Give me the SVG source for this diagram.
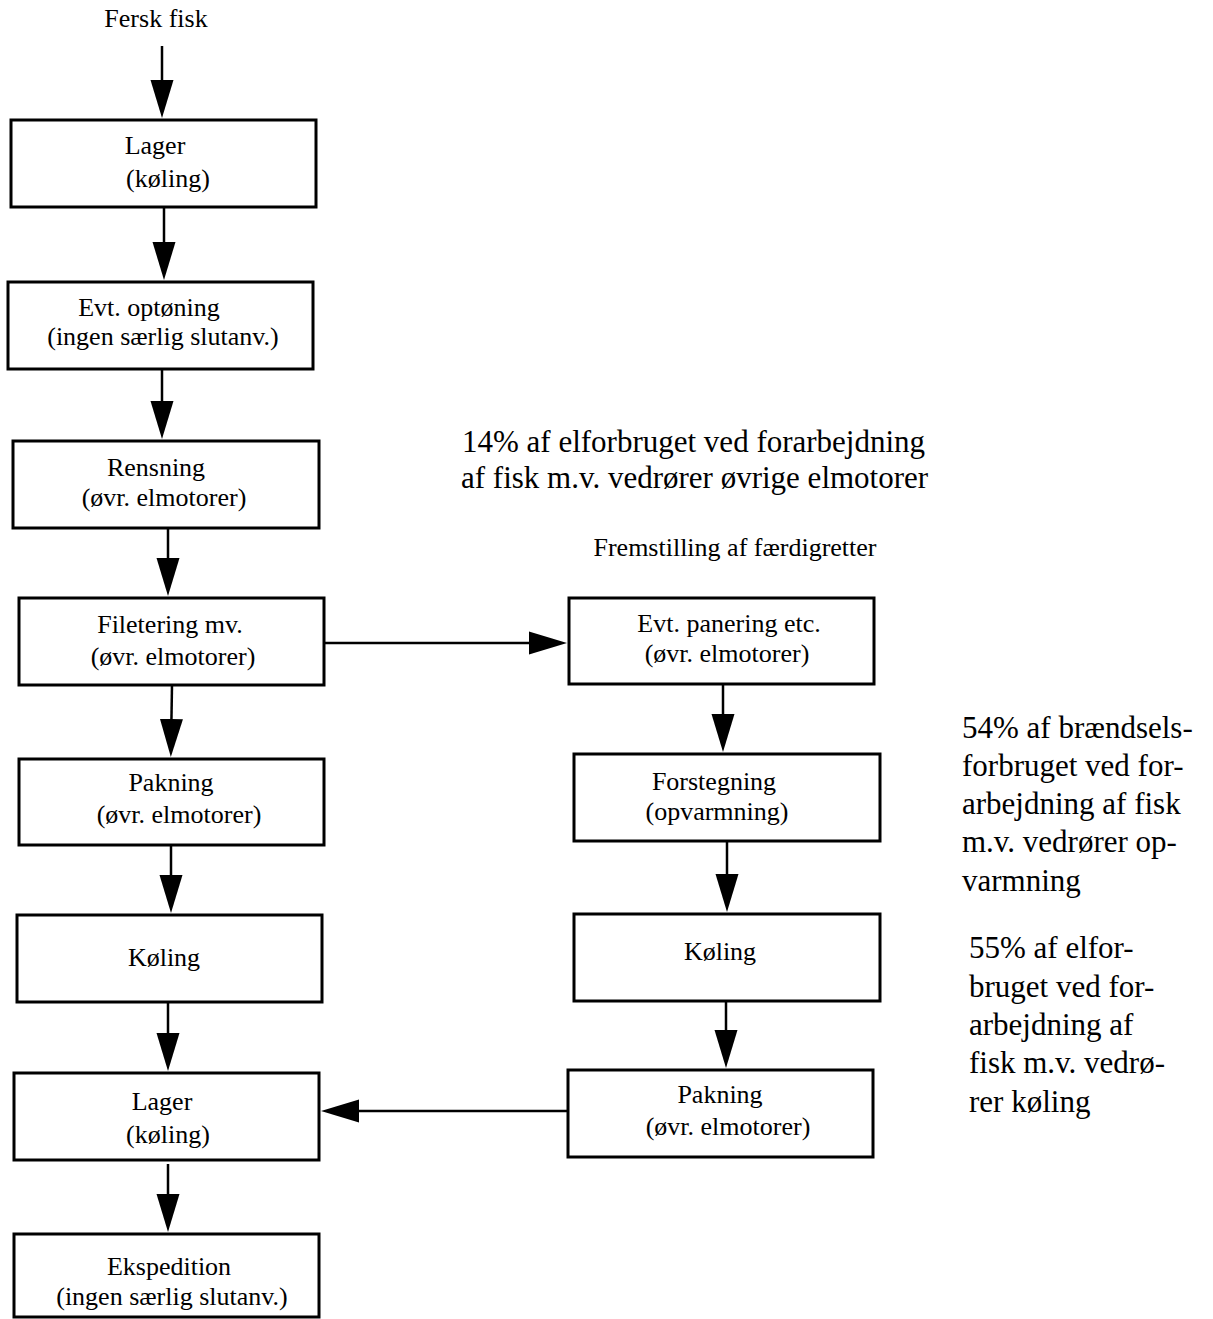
<svg xmlns="http://www.w3.org/2000/svg" width="1213" height="1319" viewBox="0 0 1213 1319">
  <style>
    .box { fill: #ffffff; stroke: #000000; stroke-width: 3; }
    .lbl { font-family: "Liberation Serif", "Times New Roman", serif; font-size: 26px; fill: #000000; text-anchor: middle; }
    .note { font-family: "Liberation Serif", "Times New Roman", serif; font-size: 31px; fill: #000000; }
    .flow { stroke: #000000; stroke-width: 2.5; fill: none; marker-end: url(#head); }
  </style>
  <defs>
    <marker id="head" markerUnits="userSpaceOnUse" markerWidth="38" markerHeight="24" viewBox="0 0 38 24" refX="28" refY="12" orient="auto">
      <path d="M0,0.5 L38,12 L0,23.5 Z" fill="#000000"/>
    </marker>
  </defs>

  <rect width="1213" height="1319" fill="#ffffff"/>

  <!-- Input label -->
  <text class="lbl" x="156" y="27">Fersk fisk</text>

  <!-- Main line, left column -->
  <g id="lager1">
    <rect class="box" x="11" y="120" width="305" height="87"/>
    <text class="lbl" x="155" y="154">Lager</text>
    <text class="lbl" x="168" y="187">(køling)</text>
  </g>
  <g id="optoening">
    <rect class="box" x="8" y="282" width="305" height="87"/>
    <text class="lbl" x="149" y="316">Evt. optøning</text>
    <text class="lbl" x="163" y="345">(ingen særlig slutanv.)</text>
  </g>
  <g id="rensning">
    <rect class="box" x="13" y="441" width="306" height="87"/>
    <text class="lbl" x="156" y="476">Rensning</text>
    <text class="lbl" x="164" y="506">(øvr. elmotorer)</text>
  </g>
  <g id="filetering">
    <rect class="box" x="19" y="598" width="305" height="87"/>
    <text class="lbl" x="170" y="633">Filetering mv.</text>
    <text class="lbl" x="173" y="665">(øvr. elmotorer)</text>
  </g>
  <g id="pakning1">
    <rect class="box" x="19" y="759" width="305" height="86"/>
    <text class="lbl" x="171" y="791">Pakning</text>
    <text class="lbl" x="179" y="823">(øvr. elmotorer)</text>
  </g>
  <g id="koeling1">
    <rect class="box" x="17" y="915" width="305" height="87"/>
    <text class="lbl" x="164" y="966">Køling</text>
  </g>
  <g id="lager2">
    <rect class="box" x="14" y="1073" width="305" height="87"/>
    <text class="lbl" x="162" y="1110">Lager</text>
    <text class="lbl" x="168" y="1143">(køling)</text>
  </g>
  <g id="ekspedition">
    <rect class="box" x="14" y="1234" width="305" height="83"/>
    <text class="lbl" x="169" y="1275">Ekspedition</text>
    <text class="lbl" x="172" y="1305">(ingen særlig slutanv.)</text>
  </g>

  <!-- Ready meals branch, right column -->
  <text class="lbl" x="735" y="556">Fremstilling af færdigretter</text>
  <g id="panering">
    <rect class="box" x="569" y="598" width="305" height="86"/>
    <text class="lbl" x="729" y="632">Evt. panering etc.</text>
    <text class="lbl" x="727" y="662">(øvr. elmotorer)</text>
  </g>
  <g id="forstegning">
    <rect class="box" x="574" y="754" width="306" height="87"/>
    <text class="lbl" x="714" y="790">Forstegning</text>
    <text class="lbl" x="717" y="820">(opvarmning)</text>
  </g>
  <g id="koeling2">
    <rect class="box" x="574" y="914" width="306" height="87"/>
    <text class="lbl" x="720" y="960">Køling</text>
  </g>
  <g id="pakning2">
    <rect class="box" x="568" y="1070" width="305" height="87"/>
    <text class="lbl" x="720" y="1103">Pakning</text>
    <text class="lbl" x="728" y="1135">(øvr. elmotorer)</text>
  </g>

  <!-- Energy share notes -->
  <g id="note-elmotorer">
    <text class="note" x="462" y="452">14% af elforbruget ved forarbejdning</text>
    <text class="note" x="461" y="488">af fisk m.v. vedrører øvrige elmotorer</text>
  </g>
  <g id="note-opvarmning">
    <text class="note" x="962" y="738">54% af brændsels-</text>
    <text class="note" x="962" y="776">forbruget ved for-</text>
    <text class="note" x="962" y="814">arbejdning af fisk</text>
    <text class="note" x="962" y="852">m.v. vedrører op-</text>
    <text class="note" x="962" y="891">varmning</text>
  </g>
  <g id="note-koeling">
    <text class="note" x="969" y="958">55% af elfor-</text>
    <text class="note" x="969" y="997">bruget ved for-</text>
    <text class="note" x="969" y="1035">arbejdning af</text>
    <text class="note" x="969" y="1073">fisk m.v. vedrø-</text>
    <text class="note" x="969" y="1112">rer køling</text>
  </g>

  <!-- Connectors; each line stops 10px before its arrow tip -->
  <g id="connectors">
    <line class="flow" x1="162" y1="46" x2="162" y2="108"/>
    <line class="flow" x1="164" y1="207" x2="164" y2="270"/>
    <line class="flow" x1="162" y1="369" x2="162" y2="429"/>
    <line class="flow" x1="168" y1="528" x2="168" y2="586"/>
    <line class="flow" x1="172" y1="685" x2="171" y2="747"/>
    <line class="flow" x1="171" y1="845" x2="171" y2="903"/>
    <line class="flow" x1="168" y1="1002" x2="168" y2="1061"/>
    <line class="flow" x1="168" y1="1164" x2="168" y2="1222"/>
    <line class="flow" x1="324" y1="643" x2="557" y2="643"/>
    <line class="flow" x1="723" y1="684" x2="723" y2="742"/>
    <line class="flow" x1="727" y1="841" x2="727" y2="902"/>
    <line class="flow" x1="726" y1="1001" x2="726" y2="1058"/>
    <line class="flow" x1="568" y1="1111" x2="331" y2="1111"/>
  </g>
</svg>
